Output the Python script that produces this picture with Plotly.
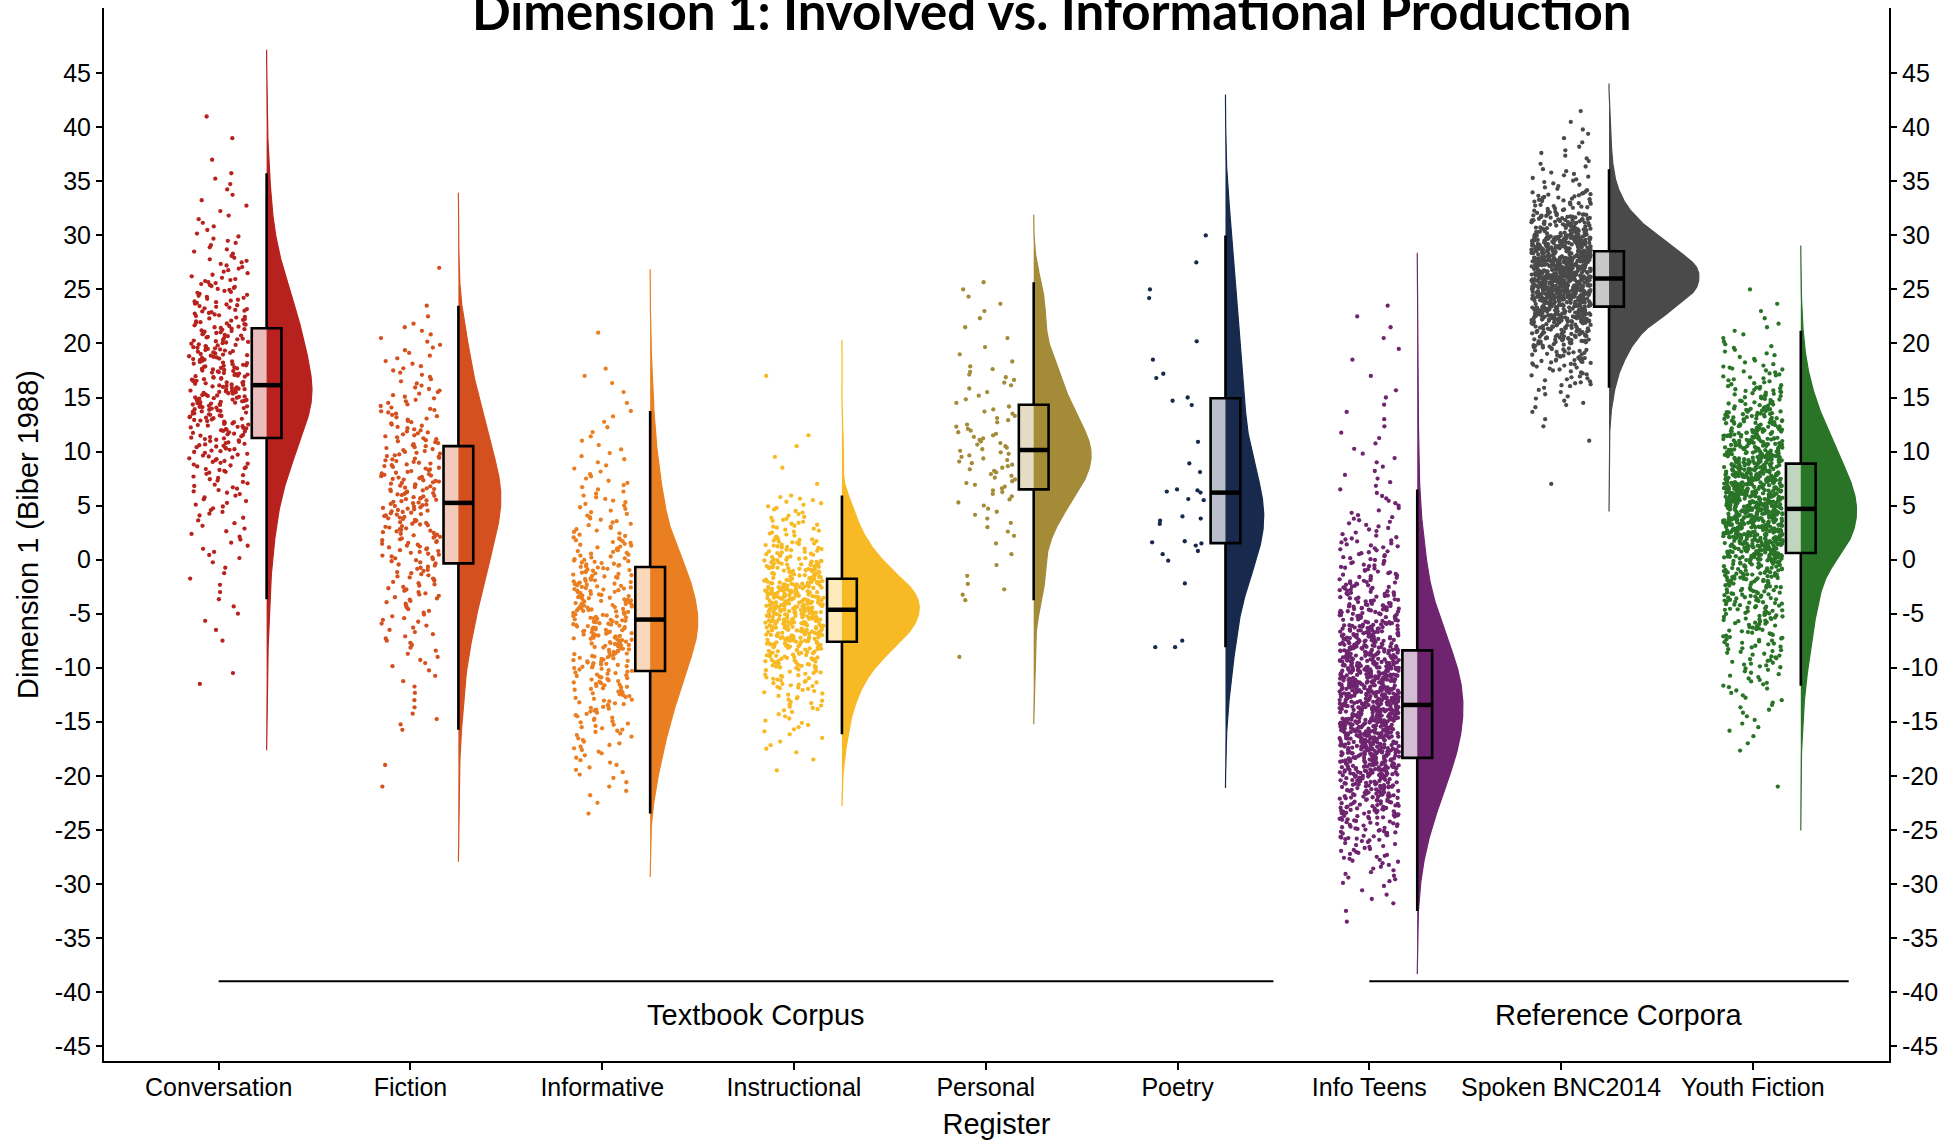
import numpy as np
import plotly.graph_objects as go

# ---------------------------------------------------------------------------
# Dimension 1 scores per register.
# Most registers are stored as counts in consecutive 2-point bins, starting at
# the given lower edge; Poetry (few texts) is listed score by score.
# ---------------------------------------------------------------------------
registers = ["Conversation", "Fiction", "Informative", "Instructional", "Personal",
             "Poetry", "Info Teens", "Spoken BNC2014", "Youth Fiction"]

BIN_WIDTH = 2.0

conversation_start = -12
conversation_counts = [2, 0, 2, 3, 3, 4, 7, 8, 12, 16, 24, 32, 38, 48, 42, 38, 34, 28,
                       22, 14, 10, 6, 4, 4, 1, 1, 1]

fiction_start = -22
fiction_counts = [1, 1, 0, 4, 3, 4, 7, 10, 12, 17, 20, 24, 28, 32, 32, 26, 22, 18, 14,
                  10, 8, 6, 2, 0, 1]

informative_start = -24
informative_counts = [2, 5, 9, 13, 18, 24, 30, 36, 46, 44, 40, 34, 24, 16, 13, 10, 7, 5,
                      4, 2, 3, 0, 1]

instructional_start = -20
instructional_counts = [2, 6, 10, 18, 30, 52, 84, 100, 96, 62, 38, 22, 14, 1, 2, 2, 0, 0, 1]

personal_start = -10
personal_counts = [1, 0, 0, 4, 2, 2, 5, 7, 12, 14, 14, 10, 6, 8, 3, 2, 3, 3]

poetry_scores = [30.0, 27.5, 25.0, 24.2, 20.2, 18.5, 17.2, 16.8, 15.0, 14.7, 14.3, 10.9,
                 8.9, 8.1, 6.5, 6.4, 6.3, 6.2, 5.6, 5.5, 4.0, 3.8, 3.6, 3.3, 1.7, 1.6,
                 1.5, 1.3, 0.8, 0.5, -0.1, -2.2, -7.5, -8.1, -8.1]

info_teens_start = -34
info_teens_counts = [2, 5, 12, 22, 38, 58, 78, 102, 118, 128, 130, 122, 104, 80, 58, 40,
                     28, 22, 14, 9, 6, 5, 4, 3, 3, 1, 2, 2, 2]

spoken_start = 6
spoken_counts = [1, 0, 1, 3, 10, 22, 45, 80, 155, 225, 230, 160, 85, 38, 16, 8, 5, 2]

youth_fiction_start = -22
youth_fiction_counts = [1, 0, 3, 6, 9, 15, 24, 30, 42, 52, 70, 125, 150, 155, 140, 112,
                        86, 60, 38, 22, 12, 6, 3, 1]

colors = ["#B8221E", "#D5501F", "#EA7F22", "#F8BA24", "#A48B38",
          "#172A4E", "#6E246E", "#4A4A4A", "#2A7428"]

group_labels = ["Textbook Corpus", "Reference Corpora"]
group_spans = [(0.0, 5.5), (6.0, 8.5)]

y_ticks = list(range(-45, 50, 5))
y_tick_text = [str(t) for t in y_ticks]


def expand_bins(start, counts):
    """Spread each bin's texts evenly across the bin."""
    out = []
    for b, n in enumerate(counts):
        lo = start + b * BIN_WIDTH
        for k in range(n):
            out.append(lo + (k + 0.5) * BIN_WIDTH / n)
    return np.array(out)


scores = [
    expand_bins(conversation_start, conversation_counts),
    expand_bins(fiction_start, fiction_counts),
    expand_bins(informative_start, informative_counts),
    expand_bins(instructional_start, instructional_counts),
    expand_bins(personal_start, personal_counts),
    np.array(poetry_scores, dtype=float),
    expand_bins(info_teens_start, info_teens_counts),
    expand_bins(spoken_start, spoken_counts),
    expand_bins(youth_fiction_start, youth_fiction_counts),
]

FONT = "Liberation Sans, Arial, Helvetica, sans-serif"
CLOUD_OFFSET = 0.25     # violin / box position to the right of the category
BOX_WIDTH = 0.155
JITTER = 0.155
DENSITY_SCALE = 4.5     # x-units per unit of density (same area for every violin)


def rgba(hex_color, alpha):
    h = hex_color.lstrip("#")
    r, g, b = int(h[0:2], 16), int(h[2:4], 16), int(h[4:6], 16)
    return f"rgba({r},{g},{b},{alpha})"


def nrd0(v):
    q1, q3 = np.percentile(v, [25, 75])
    return 0.9 * min(np.std(v, ddof=1), (q3 - q1) / 1.34) * len(v) ** -0.2


def hash_unit(n, seed):
    """Deterministic scatter in [0, 1) for horizontal jitter."""
    k = np.arange(n, dtype=float)
    v = np.sin(k * 12.9898 + seed * 78.233) * 43758.5453
    return v - np.floor(v)


fig = go.Figure()

for i, (vals, col) in enumerate(zip(scores, colors)):
    pos = i + CLOUD_OFFSET

    # half violin: gaussian kernel density, equal area for every register
    bw = nrd0(vals)
    grid = np.linspace(vals.min() - 3 * bw, vals.max() + 3 * bw, 600)
    dens = np.exp(-0.5 * ((grid[:, None] - vals[None, :]) / bw) ** 2).sum(1)
    dens /= len(vals) * bw * np.sqrt(2 * np.pi)
    xs = pos + dens * DENSITY_SCALE
    poly_x = np.concatenate([[pos], xs, [pos]])
    poly_y = np.concatenate([[grid[0]], grid, [grid[-1]]])
    fig.add_trace(go.Scatter(
        x=poly_x, y=poly_y, mode="lines", fill="toself", fillcolor=col,
        line=dict(color=col, width=1.2), hoverinfo="skip", showlegend=False,
    ))

    # jittered raw scores
    jitter = hash_unit(len(vals), i + 1) * 2 * JITTER - JITTER
    fig.add_trace(go.Scatter(
        x=i + jitter, y=vals, mode="markers",
        marker=dict(size=4.3, color=col, line=dict(width=0)),
        hoverinfo="skip", showlegend=False,
    ))

    # box plot on the overlay subplot so it sits above the violin
    # (whiskers at 1.5 IQR, outlier markers hidden)
    fig.add_trace(go.Box(
        y=vals, x0=pos, width=BOX_WIDTH, boxpoints="outliers",
        marker=dict(opacity=0, size=1), xaxis="x2", yaxis="y3",
        fillcolor=rgba(col, 0.3), line=dict(color="black", width=2.6),
        whiskerwidth=0, hoverinfo="skip", showlegend=False,
    ))

    # heavier median line
    med = float(np.median(vals))
    fig.add_trace(go.Scatter(
        x=[pos - BOX_WIDTH / 2, pos + BOX_WIDTH / 2], y=[med, med],
        mode="lines", line=dict(color="black", width=4.5), xaxis="x2", yaxis="y3",
        hoverinfo="skip", showlegend=False,
    ))

# corpus brackets and labels
for label, (x_lo, x_hi) in zip(group_labels, group_spans):
    fig.add_trace(go.Scatter(
        x=[x_lo, x_hi], y=[-39, -39], mode="lines", yaxis="y2",
        line=dict(color="black", width=2), hoverinfo="skip", showlegend=False,
    ))
    fig.add_annotation(
        x=(x_lo + x_hi) / 2 + 0.05, y=-42.1, xref="x", yref="y", text=label,
        showarrow=False, font=dict(family=FONT, size=29, color="black"),
    )

fig.add_annotation(
    x=0.531, y=0.998, xref="paper", yref="paper", xanchor="center", yanchor="middle",
    text="<b>Dimension 1: Involved vs. Informational Production</b>", showarrow=False,
    font=dict(family="Lato, Carlito, sans-serif", size=51, color="black"),
)

X_RANGE = [-0.598, 8.71]
Y_RANGE = [-46.39, 51.04]

axis_common = dict(
    showline=True, linecolor="black", linewidth=2, ticks="outside", tickcolor="black",
    tickwidth=2, showgrid=False, zeroline=False,
    tickfont=dict(family=FONT, size=25, color="black"),
)

fig.update_layout(
    width=1955, height=1144,
    margin=dict(l=104, r=66, t=8, b=83),
    paper_bgcolor="white", plot_bgcolor="white",
    showlegend=False,
    xaxis=dict(
        range=X_RANGE, tickvals=list(range(len(registers))), ticktext=registers,
        ticklen=7, ticklabelstandoff=-4,
        title=dict(text="Register", font=dict(family=FONT, size=29, color="black"),
                   standoff=14),
        **axis_common,
    ),
    yaxis=dict(
        range=Y_RANGE, tickvals=y_ticks, ticktext=y_tick_text, ticklen=6,
        title=dict(text="Dimension 1 (Biber 1988)",
                   font=dict(family=FONT, size=29, color="black"), standoff=8),
        **axis_common,
    ),
    yaxis2=dict(
        range=Y_RANGE, tickvals=y_ticks, ticktext=y_tick_text, ticklen=6,
        overlaying="y", side="right",
        **axis_common,
    ),
    xaxis2=dict(range=X_RANGE, overlaying="x", visible=False),
    yaxis3=dict(range=Y_RANGE, overlaying="y", visible=False),
)

fig.write_html("out.html")
